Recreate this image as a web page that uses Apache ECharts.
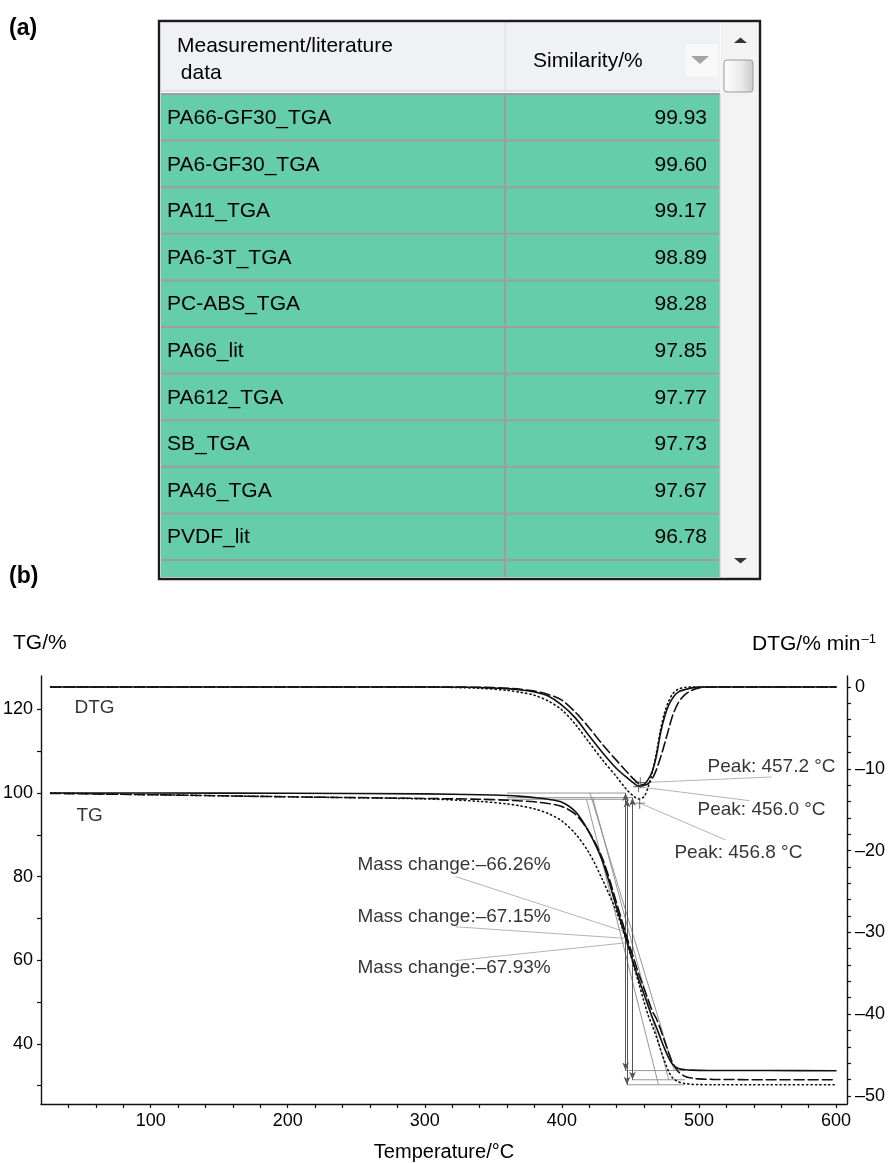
<!DOCTYPE html>
<html><head><meta charset="utf-8">
<script src="https://cdn.jsdelivr.net/npm/echarts@6/dist/echarts.min.js"></script>
<style>html,body{margin:0;padding:0;background:#fff}#c{width:888px;height:1163px}</style>
</head><body><div id="c"></div><script>
const FONT = '"Liberation Sans", Arial, Helvetica, sans-serif';

// ---------- Panel (a): similarity table ----------
const tableHeaderLeft = ['Measurement/literature', ' data'];
const tableHeaderRight = 'Similarity/%';
const tableNames = ['PA66-GF30_TGA','PA6-GF30_TGA','PA11_TGA','PA6-3T_TGA','PC-ABS_TGA','PA66_lit','PA612_TGA','SB_TGA','PA46_TGA','PVDF_lit'];
const tableSimilarity = ['99.93','99.60','99.17','98.89','98.28','97.85','97.77','97.73','97.67','96.78'];

// ---------- Panel (b): TG / DTG curves ----------
const temperature = [27,100,200,300,340,360,370,380,390,400,410,420,430,440,447,452,456,460,463,466,469,472,475,478,481,485,490,495,500,510,550,600];
const tgSolid  = [100,100,99.95,99.8,99.6,99.4,99.2,98.9,98.5,97.8,95.5,90.5,83.3,72.5,65.0,59.5,55.5,51.8,49.0,46.3,43.9,41.3,38.8,36.6,35.0,34.1,33.8,33.7,33.65,33.6,33.6,33.55];
const tgDashed = [99.9,99.6,99.1,98.7,98.5,98.3,98.1,97.9,97.5,96.8,94.9,90.6,84.0,73.6,66.0,60.8,56.8,53.2,50.5,47.8,46.0,43.4,40.6,37.8,35.3,33.3,32.2,31.8,31.6,31.5,31.4,31.4];
const tgDotted = [100,99.6,99.1,98.6,98.0,97.4,96.9,96.2,95.1,93.3,90.2,85.6,79.0,71.5,64.7,59.2,54.6,50.0,46.8,44.3,41.6,38.6,35.8,33.3,31.8,30.9,30.5,30.3,30.25,30.2,30.2,30.2];
const dtgSolid  = [0,0,0,0,-0.05,-0.2,-0.35,-0.6,-1.1,-2.2,-3.8,-6.0,-8.1,-10.0,-11.0,-11.7,-12.1,-11.9,-11.3,-10.3,-8.4,-5.6,-3.6,-2.2,-1.3,-0.6,-0.3,-0.1,0,0,0,0];
const dtgDashed = [0,0,0,0,-0.03,-0.15,-0.28,-0.5,-0.9,-1.6,-3.1,-5.0,-7.1,-9.0,-10.3,-11.2,-11.8,-12.0,-11.8,-11.2,-10.1,-8.6,-6.9,-5.1,-3.4,-1.9,-0.9,-0.4,-0.1,0,0,0];
const dtgDotted = [0,0,0,0,-0.15,-0.4,-0.65,-1.0,-1.7,-2.8,-4.6,-6.8,-9.0,-11.0,-12.5,-13.3,-13.7,-13.4,-12.2,-10.4,-8.0,-5.2,-3.1,-1.7,-0.8,-0.25,-0.05,0,0,0,0,0];

// mass-change construction (solid, dashed, dotted)
const stepTemperature = [446.5, 451.5, 447.5];
const stepTop = [100, 98.9, 98.5];
const stepBottom = [33.6, 31.4, 30.2];
const baselineStart = [360, 360, 360];
const bottomEnd = [490, 490, 490];
const tangentStart = [[420.5,100],[422.5,98.9],[418,98.5]];
const tangentEnd = [[482,33.6],[478,31.4],[470.5,30.2]];

// annotations
const peakLabels = ['Peak: 457.2 °C','Peak: 456.0 °C','Peak: 456.8 °C'];
const peakPoints = [[457.2,-11.7],[456.0,-12.2],[456.8,-14.2]];
const peakLabelPos = [[506.3,-9.8],[499,-15.0],[482.1,-20.3]];
const peakLeaderEnd = [[553,-11.0],[537,-13.9],[519.5,-18.7]];
const massLabels = ['Mass change:–66.26%','Mass change:–67.15%','Mass change:–67.93%'];
const massLabelPos = [[250.8,82.8],[250.8,70.4],[250.8,58.2]];
const massLeaderStart = [[322.5,80.0],[322.5,68.0],[322.5,59.9]];
const massLeaderEnd = [[446.3,66.8],[447.7,65.2],[447.7,64.2]];
const curveLabels = [{name:'DTG', value:[44.4,120.5]},{name:'TG', value:[45.8,94.5]}];

// axes
const xLabels = [100,200,300,400,500,600];
const tgTicks = [30,40,50,60,70,80,90,100,110,120];
const tgLabels = [40,60,80,100,120];
const dtgTicks = [-50,-48,-46,-44,-42,-40,-38,-36,-34,-32,-30,-28,-26,-24,-22,-20,-18,-16,-14,-12,-10,-8,-6,-4,-2,0];
const dtgLabels = [-50,-40,-30,-20,-10,0];

// ---------- build ----------
const chart = echarts.init(document.getElementById('c'), null, {renderer:'canvas'});
const zip = (xs, ys) => xs.map((x,i)=>[x, ys[i]]);
const ink = '#000';
const gray = '#8a8a8a';

function curve(name, ys, axis, dash) {
  return {name, type:'line', yAxisIndex:axis, data:zip(temperature, ys), showSymbol:false, smooth:0.3,
    lineStyle:{color:'#111', width:1.6, type:dash, cap:'round'}, silent:true, z:5};
}
function seg(pts, axis, color, w) {
  return {type:'line', yAxisIndex:axis, data:pts, showSymbol:false, lineStyle:{color:color||gray, width:w||0.9}, silent:true, z:3};
}

const series = [
  curve('TG solid', tgSolid, 0, 'solid'),
  curve('TG dashed', tgDashed, 0, [10,4]),
  curve('TG dotted', tgDotted, 0, [1.2,3.2]),
  curve('DTG solid', dtgSolid, 1, 'solid'),
  curve('DTG dashed', dtgDashed, 1, [10,4]),
  curve('DTG dotted', dtgDotted, 1, [1.2,3.2]),
];
for (let i=0;i<3;i++){
  series.push(seg([[baselineStart[i], stepTop[i]],[stepTemperature[i], stepTop[i]]],0));
  series.push(seg([[stepTemperature[i], stepBottom[i]],[bottomEnd[i], stepBottom[i]]],0));
  series.push(seg([tangentStart[i], tangentEnd[i]],0));
  series.push(seg([peakPoints[i], peakLeaderEnd[i]],1,'#aaa',0.9));
  series.push(seg([massLeaderStart[i], massLeaderEnd[i]],0,'#aaa',0.9));
}
// vertical step arrows
series.push({type:'line', yAxisIndex:0, data:[], silent:true,
  markLine:{silent:true, symbol:['arrow','arrow'], symbolSize:[5,8], animation:false,
    label:{show:false}, lineStyle:{color:'#555', width:1, type:'solid'},
    data: stepTemperature.map((t,i)=>[{coord:[t, stepTop[i]]},{coord:[t, stepBottom[i]]}])}});
// peak crosses
series.push({type:'scatter', yAxisIndex:1, data:peakPoints, symbol:'path://M4.6,0h0.8v10h-0.8z M0,4.6h10v0.8h-10z', symbolSize:11,
  itemStyle:{color:'#333'}, silent:true, z:6});
// text labels
const textStyle = {fontFamily:FONT, fontSize:19, color:ink};
function labelSeries(data, axis){
  return {type:'scatter', yAxisIndex:axis, data, symbolSize:0, silent:true, z:7,
    label:{show:true, position:[0,0], align:'left', verticalAlign:'middle', formatter:p=>p.name, ...textStyle}};
}
series.push(labelSeries(peakLabels.map((n,i)=>({name:n, value:peakLabelPos[i]})),1));
series.push(labelSeries(massLabels.map((n,i)=>({name:n, value:massLabelPos[i]})),0));
series.push(labelSeries(curveLabels,0));

const axisLine = {show:true, onZero:false, lineStyle:{color:'#111', width:1.4}};
const axisLabelStyle = {fontFamily:FONT, fontSize:18, color:ink};
const dash = v => String(v).replace('-', '–');

// ---------- table graphic ----------
const G = [];
G.push({type:'text', left:9, top:17, style:{text:'(a)', font:'bold 23px '+FONT, fill:ink}});
G.push({type:'text', left:9, top:565, style:{text:'(b)', font:'bold 23px '+FONT, fill:ink}});
G.push({type:'text', left:13, top:633, style:{text:'TG/%', font:'21px '+FONT, fill:ink}});
G.push({type:'text', right:12, top:633, style:{text:'{m|DTG/% min}{s|–1}', rich:{m:{fontFamily:FONT,fontSize:21,color:ink}, s:{fontFamily:FONT,fontSize:13,color:ink,verticalAlign:'top',padding:[0,0,10,1]}}}});

const tX = 159, tY = 21, tW = 601, tH = 558;
const gX = 161, gY = 94, gR = 720, colX = 505, rowH = 46.6, gBottom = 577;
G.push({type:'rect', shape:{x:tX,y:tY,width:tW,height:tH}, style:{fill:'#fbfbfb', stroke:'#1c1c1c', lineWidth:2.4}, z:1});
G.push({type:'rect', shape:{x:gX,y:tY+2,width:gR-gX,height:gY-tY-4}, style:{fill:'#f0f1f4'}, z:2});
G.push({type:'line', shape:{x1:colX,y1:tY+2,x2:colX,y2:gY-2}, style:{stroke:'#dedede', lineWidth:1}, z:3});
G.push({type:'line', shape:{x1:gX,y1:gY-3,x2:gR,y2:gY-3}, style:{stroke:'#d2d2d2', lineWidth:1.2}, z:3});
G.push({type:'rect', shape:{x:686,y:44,width:32,height:33}, style:{fill:'#f8f8f9'}, z:3});
G.push({type:'polygon', shape:{points:[[691,56],[709,56],[700,64]]}, style:{fill:'#a4a4a4'}, z:4});
G.push({type:'rect', shape:{x:gX,y:gY,width:gR-gX,height:gBottom-gY}, style:{fill:'#66cdaa'}, z:2});
for (let i=0;i<=tableNames.length;i++){
  const y = gY + i*rowH;
  G.push({type:'line', shape:{x1:gX,y1:y,x2:gR,y2:y}, style:{stroke:'#9e9e9e', lineWidth:2}, z:3});
}
G.push({type:'line', shape:{x1:colX,y1:gY,x2:colX,y2:gBottom}, style:{stroke:'#9e9e9e', lineWidth:2}, z:3});
G.push({type:'line', shape:{x1:gR,y1:gY,x2:gR,y2:gBottom}, style:{stroke:'#c8c8c8', lineWidth:1}, z:3});
tableNames.forEach((n,i)=>{
  const cy = gY + i*rowH + rowH/2 + 1;
  G.push({type:'text', x:167, y:cy, style:{text:n, font:'21px '+FONT, fill:ink, textVerticalAlign:'middle'}, z:5});
  G.push({type:'text', x:707, y:cy, style:{text:tableSimilarity[i], font:'21px '+FONT, fill:ink, textAlign:'right', textVerticalAlign:'middle'}, z:5});
});
G.push({type:'text', x:177, y:46, style:{text:tableHeaderLeft[0], font:'21px '+FONT, fill:ink, textVerticalAlign:'middle'}, z:5});
G.push({type:'text', x:175, y:73, style:{text:tableHeaderLeft[1], font:'21px '+FONT, fill:ink, textVerticalAlign:'middle'}, z:5});
G.push({type:'text', x:533, y:61, style:{text:tableHeaderRight, font:'21px '+FONT, fill:ink, textVerticalAlign:'middle'}, z:5});
// scrollbar
G.push({type:'rect', shape:{x:gR+1,y:tY+2,width:tX+tW-gR-3,height:tH-4}, style:{fill:'#f3f3f3'}, z:2});
G.push({type:'polygon', shape:{points:[[734,43],[747,43],[740.5,37.5]]}, style:{fill:'#333'}, z:4});
G.push({type:'rect', shape:{x:724,y:60,width:29,height:32,r:3}, style:{stroke:'#9c9c9c', lineWidth:1,
  fill:new echarts.graphic.LinearGradient(0,0,1,0,[{offset:0,color:'#ffffff'},{offset:0.6,color:'#eaeaea'},{offset:1,color:'#c9c9c9'}])}, z:4});
G.push({type:'polygon', shape:{points:[[734,558],[747,558],[740.5,563.5]]}, style:{fill:'#333'}, z:4});

chart.setOption({
  animation:false,
  backgroundColor:'#fff',
  graphic:G,
  grid:{left:40, right:41, top:676, bottom:59, containLabel:false},
  xAxis:{type:'value', min:20, max:608, interval:20, name:'Temperature/°C', nameLocation:'middle', nameGap:38,
    nameTextStyle:{fontFamily:FONT, fontSize:20, color:ink},
    axisLine, splitLine:{show:false},
    axisTick:{show:true, inside:false, length:4, lineStyle:{color:'#111', width:1.2}},
    axisLabel:{...axisLabelStyle, margin:8, showMinLabel:false, showMaxLabel:false,
      formatter:v => xLabels.includes(v) ? String(v) : ''}},
  yAxis:[
    {type:'value', position:'left', min:25.6, max:128, axisLine, splitLine:{show:false},
      axisTick:{show:true, length:4, customValues:tgTicks, lineStyle:{color:'#111', width:1.2}},
      axisLabel:{...axisLabelStyle, margin:8, customValues:tgLabels}},
    {type:'value', position:'right', min:-51, max:1.35, axisLine, splitLine:{show:false},
      axisTick:{show:true, length:4, customValues:dtgTicks, lineStyle:{color:'#111', width:1.2}},
      axisLabel:{...axisLabelStyle, margin:8, customValues:dtgLabels, formatter:dash}}
  ],
  series
});
</script></body></html>
